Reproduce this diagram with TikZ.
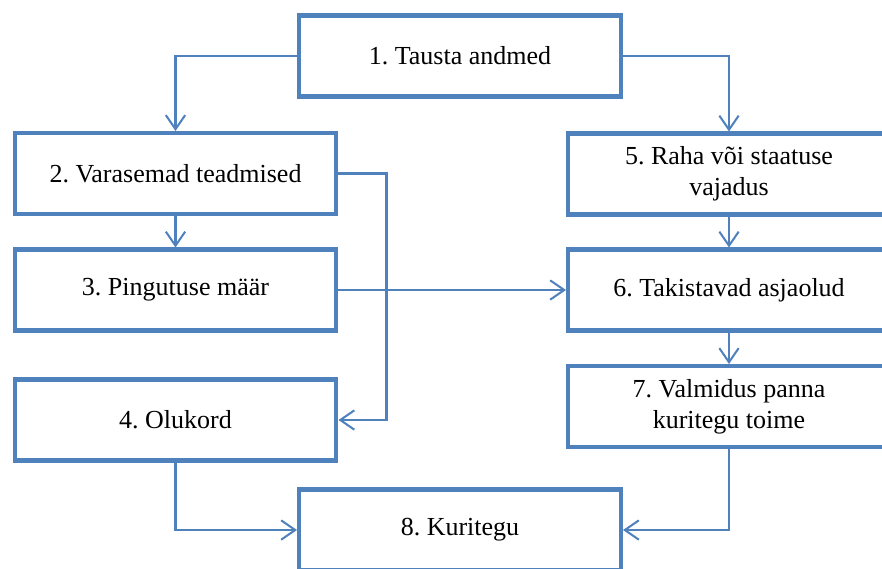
\documentclass[tikz,border=0pt]{standalone}
\usepackage{fontspec}
\setmainfont{Liberation Serif}
\frenchspacing
\usetikzlibrary{arrows.meta}
\definecolor{boxblue}{RGB}{79,129,189}
\begin{document}
\begin{tikzpicture}[x=0.02cm,y=-0.02cm,
  every node/.style={draw=boxblue,line width=2.3pt,fill=white,align=center,
    minimum width=6.44cm,minimum height=1.62cm,inner sep=0pt,
    font=\fontsize{14.8}{17.5}\selectfont},
  link/.style={draw=boxblue,line width=1.15pt,-{Straight Barb[length=8pt,width=11pt]}}]
\clip (0,0) rectangle (882,568);
\fill[white] (0,0) rectangle (882,568);
\node (b1) at (460,56) {1. Tausta andmed};
\node (b2) at (175.5,173.5) {2. Varasemad teadmised};
\node (b3) at (175.5,290) {3. Pingutuse määr};
\node (b4) at (175.5,420) {4. Olukord};
\node (b5) at (729,174) {5. Raha või staatuse\\vajadus};
\node (b6) at (729,290) {6. Takistavad asjaolud};
\node (b7) at (729,406.5) {7. Valmidus panna\\kuritegu toime};
\node (b8) at (460,530) {8. Kuritegu};
\draw[link] (b1.west) -| (b2.north);
\draw[link] (b1.east) -| (b5.north);
\draw[link] (b2) -- (b3);
\draw[link] (b2.east) -- ++(48,0) |- (b4.east);
\draw[link] (b3.east) -- (b6.west);
\draw[link] (b5) -- (b6);
\draw[link] (b6) -- (b7);
\draw[link] (b4.south) |- (b8.west);
\draw[link] (b7.south) |- (b8.east);
\end{tikzpicture}
\end{document}
